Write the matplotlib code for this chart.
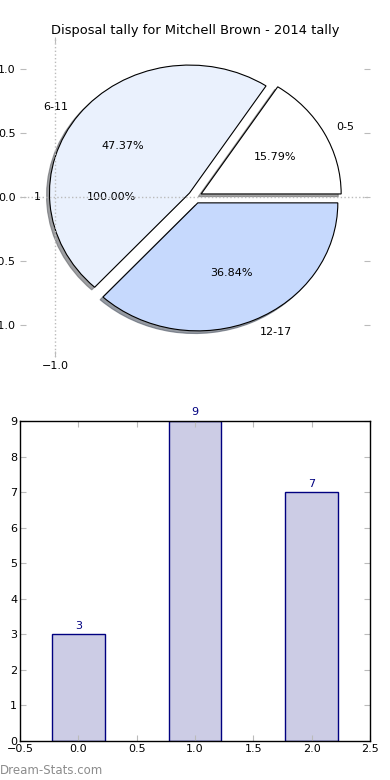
import matplotlib
matplotlib.use("Agg")
import matplotlib.pyplot as plt
from matplotlib.ticker import FuncFormatter

# data
age_groups = ["0-5", "6-11", "12-17"]
tally = [3, 9, 7]
pie_colors = ["#ffffff", "#eaf1fd", "#c6d9fd"]
explode = [0.05, 0.05, 0.05]
title = "Disposal tally for Mitchell Brown - 2014 tally"

fig = plt.figure(figsize=(3.9, 7.8), dpi=100)

# top: pie
ax1 = fig.add_axes([20 / 390, 1 - 357 / 780, 350 / 390, 320 / 780])
# a leftover single-value pie sits underneath (only its text shows)
ax1.pie([1], labels=["1"], autopct="%1.2f%%", startangle=0,
        wedgeprops=dict(fill=False, linewidth=0),
        textprops=dict(fontsize=8))
ax1.pie(tally, labels=age_groups, colors=pie_colors, explode=explode,
        autopct="%1.2f%%", shadow=dict(ox=-0.015, oy=-0.015, shade=0.6, alpha=0.6),
        startangle=0,
        wedgeprops=dict(edgecolor="black", linewidth=0.8),
        textprops=dict(fontsize=8))
ax1.set_aspect("auto")
ax1.set_xlim(-1.25, 1.25)
ax1.set_ylim(-1.25, 1.25)
ax1.set_frame_on(False)
ax1.set_xticks([-1.0])
ax1.set_yticks([-1.0, -0.5, 0.0, 0.5, 1.0])
one_dec = FuncFormatter(lambda v, p: ("%.1f" % v).replace("-", "\u2212"))
ax1.xaxis.set_major_formatter(one_dec)
ax1.yaxis.set_major_formatter(one_dec)
ax1.tick_params(direction="in", length=4, color="#bbbbbb", labelsize=8,
                left=True, right=True, top=True, bottom=True, pad=3)
ax1.axhline(0, color="#bbbbbb", ls=":", lw=1, zorder=5)
ax1.axvline(-1, color="#bbbbbb", ls=":", lw=1, zorder=5)
ax1.set_title(title, fontsize=9.4, pad=2)

# bottom: bars
ax2 = fig.add_axes([20 / 390, 1 - 741 / 780, 350 / 390, 320 / 780])
xs = list(range(len(tally)))
bars = ax2.bar(xs, tally, width=0.45, color="#ccccE5", edgecolor="navy", linewidth=1)
for x, v in zip(xs, tally):
    ax2.text(x, v + 0.1, str(v), ha="center", va="bottom", color="navy", fontsize=8)
ax2.set_xlim(-0.5, 2.5)
ax2.set_ylim(0, 9)
ax2.set_xticks([-0.5, 0.0, 0.5, 1.0, 1.5, 2.0, 2.5])
ax2.set_yticks(range(0, 10))
ax2.tick_params(direction="in", length=4, color="#bbbbbb", labelsize=8,
                left=True, right=True, top=True, bottom=True, pad=2)
for s in ax2.spines.values():
    s.set_linewidth(1)

fig.text(0.0, 1 - 771 / 780, "Dream-Stats.com", color="#8c8c8c", fontsize=8.5,
         va="center", ha="left")

fig.savefig("out.png", dpi=100)
